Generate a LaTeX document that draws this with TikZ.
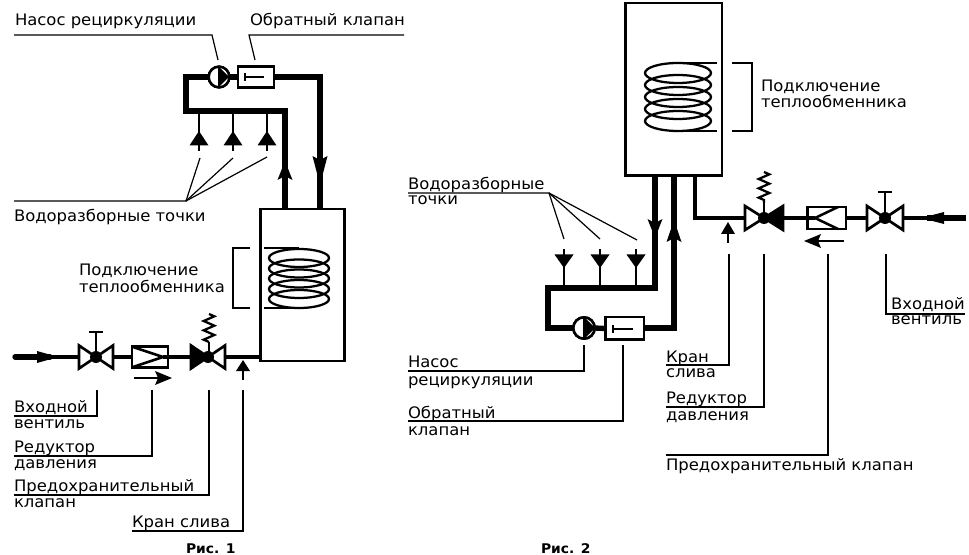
\documentclass[tikz,border=0pt]{standalone}
\usepackage{fontspec}
\setmainfont{DejaVu Sans}[FakeStretch=1.04]
\usetikzlibrary{decorations.pathmorphing,calc}
\tikzset{
  x=0.75pt,y=-0.75pt,
  every node/.style={inner sep=0pt,outer sep=0pt},
  lbl/.style={anchor=base west,font=\fontsize{11.85pt}{13pt}\selectfont},
  fig/.style={anchor=base west,font=\fontsize{10pt}{12pt}\selectfont\bfseries},
  pipe/.style={line width=4pt,line cap=butt,line join=miter},
  thinpipe/.style={line width=3.3pt},
  lead/.style={line width=0.9pt},
  tank/.style={draw,line width=2pt,fill=white,rectangle},
  box/.style={draw,line width=2pt,fill=white,rectangle},
  pumpc/.style={draw,line width=1.9pt,fill=white,circle},
  coil/.style={line width=1.7pt},
  sym/.style={line width=2pt,draw=black,fill=white,line join=miter},
  stem/.style={line width=1.9pt},
  hub/.style={fill=black,circle,minimum size=9pt},
}
\newcommand{\valvesym}[5]{%
  \draw[sym,fill=#4] ($(#1)+(-#2,-#3)$) -- ($(#1)+(-#2,#3)$) -- (#1) -- cycle;
  \draw[sym,fill=#5] ($(#1)+(#2,-#3)$) -- ($(#1)+(#2,#3)$) -- (#1) -- cycle;
  \node[hub] at (#1) {};
}
% vertical pipe arrowhead: x, apex y, corner y, notch y
\newcommand{\headv}[4]{%
  \fill (#1,#2) -- (#1+7.5,#3) -- (#1,#4) -- (#1-7.5,#3) -- cycle;
}
\begin{document}
\begin{tikzpicture}
\useasboundingbox (0,0) rectangle (969,555);
%%%% FIG 1
\node[tank,minimum width=63pt,minimum height=114pt] (tankA) at (302.5,285) {};
\coordinate (A1) at (285,209); \coordinate (A2) at (320,209);
\node[pumpc,minimum size=15.5pt] (pumpA) at (219,77) {};
\node[box,minimum width=27pt,minimum height=15.5pt] (chkA) at (256,77) {};
\draw[pipe] (pumpA.west) -- (186,77) -- (186,111) -- (285,111) -- (A1);
\draw[pipe] (chkA.east) -- (320,77) -- (A2);
\draw[pipe] (pumpA.east) -- (chkA.west);
\node[pumpc,minimum size=15.5pt] at (219,77) {};
\fill (219,67) -- (229,77) -- (219,87) -- cycle;
\draw[stem] (219,67) -- (219,87);
\draw[stem] (245,73) -- (245,81) (245,77) -- (264,77);
\headv{285}{161}{180}{176}
\headv{320}{185}{156}{160}
\foreach \x in {199,233,267}{
  \draw[stem] (\x,111) -- (\x,151);
  \fill (\x-9.5,145.5) -- (\x+9.5,145.5) -- (\x,131) -- cycle;
}
\coordinate (wA) at (186,201);
\draw[lead] (14,201) -- (wA) -- (200,158);
\draw[lead] (wA) -- (233,158);
\draw[lead] (wA) -- (267,157);
\node[lbl] (tWA) at (14,222) {Водоразборные точки};
\node[lbl] (tNA) at (15,26) {Насос рециркуляции};
\node[lbl] (tOA) at (250,26) {Обратный клапан};
\draw[lead] (14,35) -- (212,35) -- (218,60);
\draw[lead] (404,35) -- (249,35) -- (255,60);
\foreach \y in {258,268.5,278.5,289,299}{\draw[coil] (299,\y) ellipse (30 and 9);}
\draw[coil] (264,248) -- (299,248) (264,308) -- (299,308);
\draw[lead] (250,248) -- (233,248) -- (233,308) -- (250,308);
\node[lbl] at (79,276) {Подключение};
\node[lbl] at (79,293) {теплообменника};
% bottom line
\draw[pipe,line cap=round] (15,357) -- (50,357);
\draw[thinpipe] (50,357) -- (tankA.west|-0,357);
\fill (58,357) -- (37,351) -- (37,363) -- cycle;
\coordinate (vA) at (96,357);
\draw[stem] (vA) -- (96,332);
\draw[line width=2.2pt] (89,332) -- (103,332);
\valvesym{vA}{17}{11.5}{white}{white}
\node[box,minimum width=27pt,minimum height=15.5pt] (rA) at (150,357) {};
\draw[line width=1.9pt] (133,347) -- (163,357) -- (133,367);
\draw[thinpipe] (163,357) -- (rA.east);
\draw[stem] (134,378) -- (160,378);
\fill (172,378) -- (155,371) -- (158,378) -- (155,385) -- cycle;
\coordinate (sA) at (208,357);
\draw[line width=1.7pt,decorate,decoration={zigzag,segment length=7pt,amplitude=4pt}] (209,314) -- (209,342);
\draw[stem] (209,342) -- (209,357);
\valvesym{sA}{17}{11.5}{black}{white}
\fill (243,360) -- (250,371) -- (236,371) -- cycle;
\draw[stem] (243,370) -- (243,380);
\draw[lead] (97,390) -- (97,416) -- (14,416);
\node[lbl] at (14,412) {Входной};
\node[lbl] at (14,428) {вентиль};
\draw[lead] (152,390) -- (152,456) -- (14,456);
\node[lbl] at (14,452) {Редуктор};
\node[lbl] at (14,468) {давления};
\draw[lead] (209,390) -- (209,495) -- (14,495);
\node[lbl] at (14,491) {Предохранительный};
\node[lbl] at (14,507) {клапан};
\draw[lead] (243,390) -- (243,531) -- (132,531);
\node[lbl] at (132,527) {Кран слива};
\node[fig] at (186,553) {Рис. 1};
%%%% FIG 2
\node[tank,minimum width=72.5pt,minimum height=129.5pt] (tankB) at (673.5,89.5) {};
\node[pumpc,minimum size=16pt] (pumpB) at (584,328) {};
\node[box,minimum width=29pt,minimum height=17pt] (chkB) at (624.5,328.5) {};
\coordinate (B1) at (655,176); \coordinate (B2) at (674,176); \coordinate (B3) at (695,176);
\draw[pipe] (B1) -- (655,288) -- (548,288) -- (548,328) -- (pumpB.west);
\draw[pipe] (pumpB.east) -- (chkB.west);
\draw[pipe] (chkB.east|-0,328) -- (674,328) -- (B2);
\node[pumpc,minimum size=16pt] at (584,328) {};
\fill (584,317) -- (595,328) -- (584,339) -- cycle;
\draw[stem] (584,317) -- (584,339);
\draw[stem] (613,325) -- (613,333) (613,329) -- (633,329);
\headv{674}{220}{242}{238}
\headv{655}{238}{219}{223}
\foreach \x in {564,600,636}{
  \draw[stem] (\x,288) -- (\x,249);
  \fill (\x-9.5,254.5) -- (\x+9.5,254.5) -- (\x,268) -- cycle;
}
\coordinate (wB) at (549,193);
\draw[lead] (408,193) -- (wB) -- (564,239);
\draw[lead] (wB) -- (600,239);
\draw[lead] (wB) -- (637,240);
\node[lbl] at (408,190) {Водоразборные};
\node[lbl] at (408,205) {точки};
\draw[lead] (408,371) -- (584,371) -- (584,345);
\node[lbl] at (408,368) {Насос};
\node[lbl] at (408,385) {рециркуляции};
\draw[lead] (408,421) -- (623,421) -- (623,345);
\node[lbl] at (408,418) {Обратный};
\node[lbl] at (408,435) {клапан};
\foreach \y in {73,85,97,109,121}{\draw[coil] (678,\y) ellipse (33 and 10);}
\draw[coil] (678,63) -- (717,63) (678,131) -- (717,131);
\draw[lead] (732,63) -- (752,63) -- (752,131) -- (732,131);
\node[lbl] at (761,92) {Подключение};
\node[lbl] at (761,108) {теплообменника};
\draw[thinpipe] (B3) -- (695,218) -- (927,218);
\draw[pipe] (927,218) -- (966,218);
\fill (921,218) -- (944,212) -- (944,224) -- cycle;
\coordinate (vB) at (885,218);
\draw[stem] (vB) -- (885,192);
\draw[line width=2.2pt] (878,192) -- (892,192);
\valvesym{vB}{18}{12}{white}{white}
\node[box,minimum width=29pt,minimum height=16.5pt] (rB) at (826.5,218) {};
\draw[line width=1.9pt] (838,207) -- (815,218) -- (838,229);
\draw[thinpipe] (rB.west) -- (815,218);
\draw[stem] (844,241) -- (815,241);
\fill (804,241) -- (821,234) -- (818,241) -- (821,248) -- cycle;
\coordinate (sB) at (764,218);
\draw[line width=1.7pt,decorate,decoration={zigzag,segment length=7pt,amplitude=4pt}] (764,172) -- (764,203);
\draw[stem] (764,203) -- (764,218);
\valvesym{sB}{19}{12}{white}{black}
\fill (728,222) -- (735,234) -- (721,234) -- cycle;
\draw[stem] (728,233) -- (728,243);
\draw[lead] (729,254) -- (729,365) -- (666,365);
\node[lbl] at (666,362) {Кран};
\node[lbl] at (666,377) {слива};
\draw[lead] (764,254) -- (764,407) -- (666,407);
\node[lbl] at (666,403) {Редуктор};
\node[lbl] at (666,420) {давления};
\draw[lead] (828,254) -- (828,455) -- (666,455);
\node[lbl] at (666,470) {Предохранительный клапан};
\draw[lead] (886,254) -- (886,314) -- (965,314);
\node[lbl] at (891,310) {Входной};
\node[lbl] at (891,325) {вентиль};
\node[fig] at (541,553) {Рис. 2};
\end{tikzpicture}
\end{document}
